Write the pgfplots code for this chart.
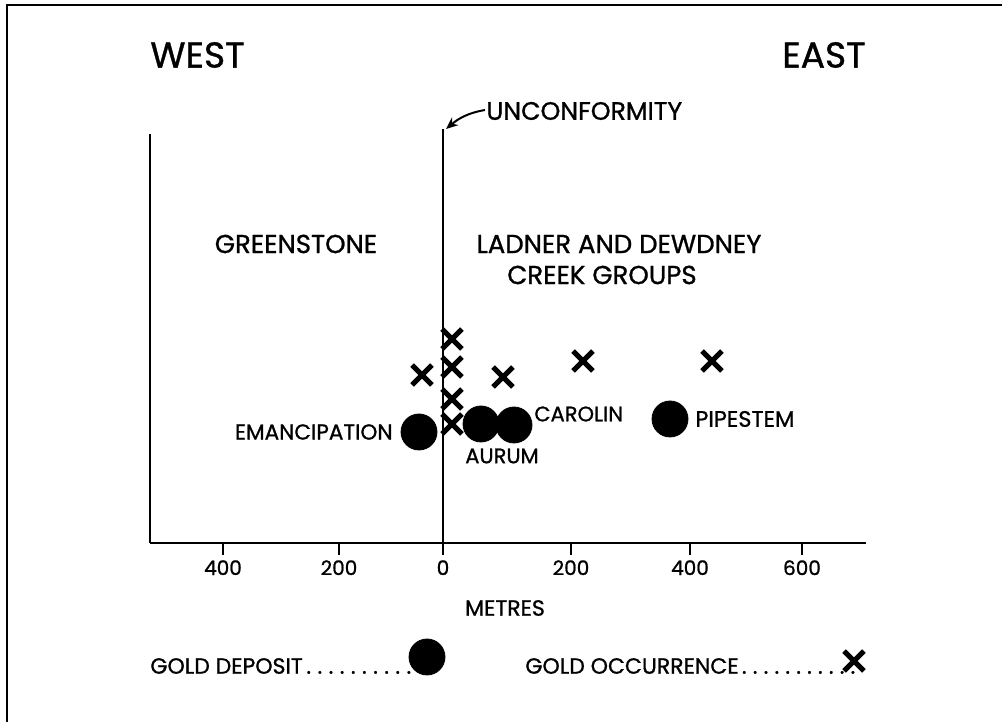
\documentclass[border=0pt]{standalone}
\usepackage{fontspec}
\setmainfont{Poppins}[UprightFeatures={FakeBold=1.0}]
\usepackage{pgfplots}
\pgfplotsset{compat=1.18}
\usetikzlibrary{arrows.meta}

% leader dots for the key
\newcommand{\leaderdots}[1]{\makebox[#1]{\xleaders\hbox to 5.2pt{\hss.\hss}\hfill}}

\begin{document}
\begin{tikzpicture}
% page = 1002 x 722 px, 1 px = 0.5pt
\useasboundingbox (0,0) rectangle (501pt,361pt);
% frame (left and top edges only, as in the scan)
\draw[line width=1.2pt] (3.5pt,0) -- (3.5pt,358.5pt) -- (501pt,358.5pt);

\begin{axis}[
  at={(221.5pt,89.5pt)}, anchor=origin,
  x=0.5pt, y=0.5pt,
  xmin=-293, xmax=423, ymin=0, ymax=409,
  axis lines=left,
  axis line style={-, line width=1.2pt},
  ytick=\empty,
  xtick={-220,-104,0,128,247,359},
  xticklabels={400,200,0,200,400,600},
  xtick style={draw=none},
  /pgf/number format/assume math mode=true,
  xticklabel style={font=\fontsize{10}{12}\selectfont, yshift=-3pt},
  clip=false,
]
% tick marks below the base line
\addplot[line width=1.3pt, black] coordinates {(-220,0) (-220,-12)};
\addplot[line width=1.3pt, black] coordinates {(-104,0) (-104,-12)};
\addplot[line width=1.3pt, black] coordinates {(0,0) (0,-12)};
\addplot[line width=1.3pt, black] coordinates {(128,0) (128,-12)};
\addplot[line width=1.3pt, black] coordinates {(247,0) (247,-12)};
\addplot[line width=1.3pt, black] coordinates {(359,0) (359,-12)};
% unconformity
\addplot[line width=1.2pt, black] coordinates {(0,0) (0,414)};

% gold deposits
\addplot[only marks, mark=*, mark size=9pt, black] coordinates {
  (-24,111) (38,119) (71,118) (227,124)
};
% gold occurrences
\addplot[only marks, mark=x, mark size=7pt, black, mark options={line width=2.6pt}] coordinates {
  (-21,168) (9,204) (9,176) (9,144) (9,119) (60,166) (140,182) (269,182)
};
% key symbols
\addplot[only marks, mark=*, mark size=9pt, black] coordinates {(-16,-114)};
\addplot[only marks, mark=x, mark size=7pt, black, mark options={line width=2.6pt}] coordinates {(411,-118)};

% labels
\node[anchor=west, inner sep=0, font=\fontsize{18}{22}\selectfont] at (axis cs:-293,488) {WEST};
\node[anchor=east, inner sep=0, font=\fontsize{18}{22}\selectfont] at (axis cs:423,488) {EAST};
\node[anchor=west, inner sep=0, font=\fontsize{12.6}{15}\selectfont] at (axis cs:43,432) {UNCONFORMITY};
\draw[-{Stealth[length=6pt,width=5pt]}, line width=1pt] (axis cs:42,433) to[out=190,in=40] (axis cs:3,414);
\node[font=\fontsize{13}{15}\selectfont, inner sep=0] at (axis cs:-147,299) {GREENSTONE};
\node[font=\fontsize{13}{15}\selectfont, inner sep=0] at (axis cs:176,299) {LADNER AND DEWDNEY};
\node[font=\fontsize{13}{15}\selectfont, inner sep=0] at (axis cs:159,268) {CREEK GROUPS};
\node[anchor=east, font=\fontsize{10.8}{12}\selectfont, inner sep=0] at (axis cs:-50,111) {EMANCIPATION};
\node[font=\fontsize{10.5}{12}\selectfont, inner sep=0] at (axis cs:59,87) {AURUM};
\node[anchor=west, font=\fontsize{10.5}{12}\selectfont, inner sep=0] at (axis cs:91,129) {CAROLIN};
\node[anchor=west, font=\fontsize{11.2}{12}\selectfont, inner sep=0] at (axis cs:252,124) {PIPESTEM};
\node[font=\fontsize{11}{12}\selectfont, inner sep=0] at (axis cs:62,-65) {METRES};
\node[anchor=west, font=\fontsize{11}{12}\selectfont, inner sep=0] at (axis cs:-293,-123) {GOLD DEPOSIT\leaderdots{56pt}};
\node[anchor=west, font=\fontsize{11}{12}\selectfont, inner sep=0] at (axis cs:82,-123) {GOLD OCCURRENCE\leaderdots{60pt}};
\end{axis}
\end{tikzpicture}
\end{document}
